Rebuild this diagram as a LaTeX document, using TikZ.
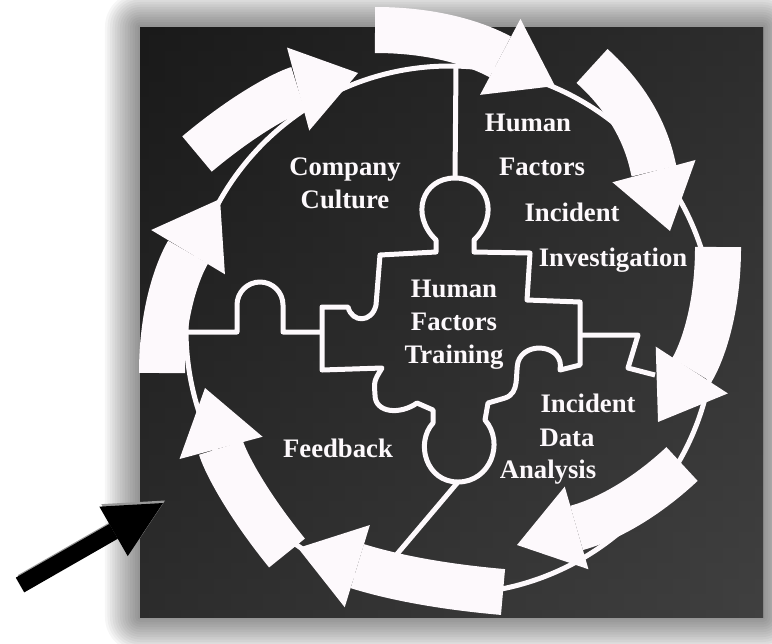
\documentclass[tikz,border=0pt]{standalone}
\usepackage{fontspec}
\setmainfont{Liberation Serif}
\usepackage{xcolor}
\definecolor{boardblack}{RGB}{26,26,26}
\definecolor{boardgray}{RGB}{64,64,64}
\definecolor{chalk}{RGB}{253,249,252}
\usetikzlibrary{arrows.meta}
\tikzset{
    cyclearrow/.style={draw=chalk, line width=0.46cm, -{Triangle[width=0.86cm,length=0.62cm,line width=0pt]}},
    pieceline/.style={draw=chalk, line width=0.05cm, line join=round},
    stagetext/.style={text=chalk, font=\bfseries\fontsize{7.6}{9.4}\selectfont, align=center, inner sep=0pt},
    pointer/.style={line width=0.17cm, -{Triangle[width=0.57cm,length=0.57cm,line width=0pt]}}
}

\begin{document}
\begin{tikzpicture}
    \useasboundingbox (0,0) rectangle (7.72,6.43);
    \fill[white] (0,0) rectangle (7.72,6.43);
    % soft shadow and board
    \foreach \s in {0.025,0.05,...,0.375}
        \fill[black, opacity=0.034, rounded corners=\s cm] ({1.40-\s},{0.26-\s}) rectangle ({7.63+\s},{6.16+\s});
    \shade[top color=boardblack, bottom color=boardgray] (1.40,0.26) rectangle (7.63,6.16);
    \shade[left color=boardblack, right color=boardgray, opacity=0.5] (1.40,0.26) rectangle (7.63,6.16);

    % ring and puzzle lines
    \coordinate (hub) at (4.50,3.13);
    \draw[pieceline] (hub) circle (2.64);
    \draw[pieceline] (4.56,5.77) -- (4.55,4.65);
    \draw[pieceline] (1.87,3.11) -- (2.37,3.11) -- (2.37,3.38) arc[start angle=180, end angle=0, radius=0.23] -- (2.83,3.11) -- (3.22,3.11);
    \draw[pieceline] (5.80,3.08) -- (6.38,3.08) -- (6.28,2.75) -- (6.55,2.68);
    \draw[pieceline] (4.58,1.61) -- (3.92,0.83);
    \draw[pieceline] (3.80,3.88) -- (4.36,3.91) -- (4.36,4.03)
        .. controls (4.10,4.28) and (4.22,4.65) .. (4.55,4.65)
        .. controls (4.88,4.65) and (5.00,4.28) .. (4.74,4.03)
        -- (4.74,3.91) -- (5.30,3.90) -- (5.27,3.43) -- (5.80,3.41) -- (5.80,2.78) -- (5.60,2.73)
        .. controls (5.65,2.98) and (5.25,3.03) .. (5.18,2.81)
        .. controls (5.15,2.68) and (5.20,2.50) .. (5.05,2.45) -- (4.88,2.40) -- (4.85,2.23)
        .. controls (5.05,2.00) and (4.90,1.61) .. (4.58,1.61)
        .. controls (4.26,1.61) and (4.15,2.00) .. (4.33,2.20) -- (4.33,2.33) -- (4.17,2.40)
        .. controls (4.00,2.28) and (3.75,2.30) .. (3.75,2.48)
        .. controls (3.74,2.62) .. (3.82,2.75) -- (3.22,2.73) -- (3.22,3.36) -- (3.48,3.36)
        .. controls (3.52,3.20) and (3.72,3.20) .. (3.76,3.38) -- cycle;

    % cycle arrows
    \coordinate (t1) at (3.75,6.13); \coordinate (h1) at (5.55,5.57);
    \coordinate (t2) at (5.92,5.77); \coordinate (h2) at (6.70,4.12);
    \coordinate (t3) at (7.18,3.96); \coordinate (h3) at (6.58,2.21);
    \coordinate (t4) at (6.82,1.79); \coordinate (h4) at (5.17,0.98);
    \coordinate (t5) at (5.03,0.51); \coordinate (h5) at (2.98,0.95);
    \coordinate (t6) at (2.87,0.90); \coordinate (h6) at (2.05,2.55);
    \coordinate (t7) at (1.62,2.70); \coordinate (h7) at (2.20,4.44);
    \coordinate (t8) at (1.97,4.89); \coordinate (h8) at (3.58,5.70);
    \foreach \n/\o/\i in {1/0/152, 2/-42/105, 3/-90/57, 4/-137/16, 5/175/-17, 6/129/-75, 7/90/-121, 8/40/-165}
        \draw[cyclearrow] (t\n) to[out=\o, in=\i] (h\n);

    % labels
    \node[stagetext] (culture) at (3.45,4.60) {Company\\Culture};
    \node[stagetext] (inv-human) at (5.28,5.20) {Human};
    \node[stagetext] (inv-factors) at (5.42,4.76) {Factors};
    \node[stagetext] (inv-incident) at (5.72,4.31) {Incident};
    \node[stagetext] (inv-investigation) at (6.13,3.83) {Investigation};
    \node[stagetext] (training) at (4.54,3.18) {Human\\Factors\\Training};
    \node[stagetext] (data-incident) at (5.88,2.40) {Incident};
    \node[stagetext] (data-data) at (5.67,2.05) {Data};
    \node[stagetext] (data-analysis) at (5.48,1.71) {Analysis};
    \node[stagetext] (feedback) at (3.38,1.95) {Feedback};

    % pointer
    \coordinate (ptr-tail) at (0.20,0.58);
    \coordinate (ptr-tip) at (1.63,1.40);
    \draw[pointer, draw=black!40] ([shift={(0.02,0.025)}]ptr-tail) -- ([shift={(0.02,0.025)}]ptr-tip);
    \draw[pointer, draw=black] (ptr-tail) -- (ptr-tip);
\end{tikzpicture}
\end{document}
